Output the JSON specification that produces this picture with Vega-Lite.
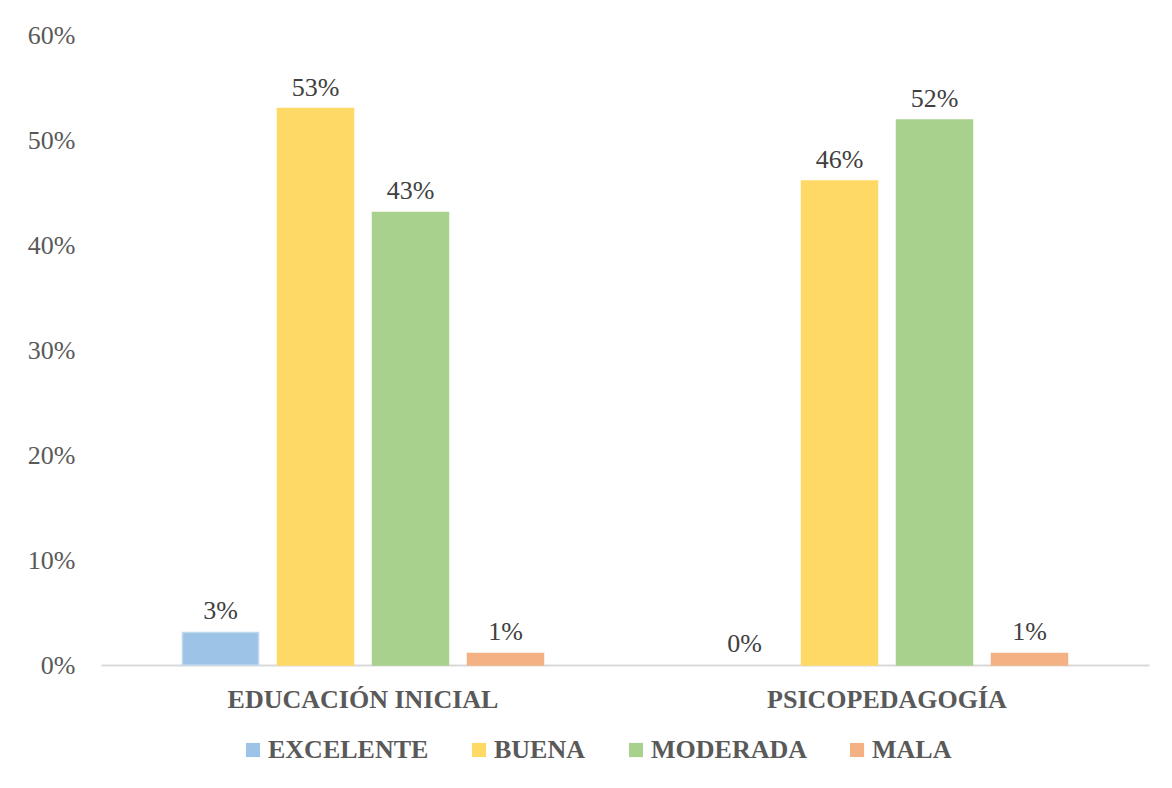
{
  "$schema": "https://vega.github.io/schema/vega-lite/v6.json",
  "width": 1048,
  "height": 630,
  "autosize": {"type": "none"},
  "padding": {"left": 101, "top": 35, "right": 23, "bottom": 123},
  "background": "white",
  "data": {
    "values": [
      {"programa": "EDUCACIÓN  INICIAL", "nivel": "EXCELENTE", "valor": 0.031},
      {"programa": "EDUCACIÓN  INICIAL", "nivel": "BUENA", "valor": 0.53},
      {"programa": "EDUCACIÓN  INICIAL", "nivel": "MODERADA", "valor": 0.431},
      {"programa": "EDUCACIÓN  INICIAL", "nivel": "MALA", "valor": 0.011},
      {"programa": "PSICOPEDAGOGÍA", "nivel": "EXCELENTE", "valor": 0.0},
      {"programa": "PSICOPEDAGOGÍA", "nivel": "BUENA", "valor": 0.461},
      {"programa": "PSICOPEDAGOGÍA", "nivel": "MODERADA", "valor": 0.519},
      {"programa": "PSICOPEDAGOGÍA", "nivel": "MALA", "valor": 0.011}
    ]
  },
  "encoding": {
    "x": {
      "field": "programa",
      "type": "nominal",
      "sort": null,
      "title": null,
      "scale": {"paddingInner": 0, "paddingOuter": 0},
      "axis": {
        "labelAngle": 0,
        "labelLimit": 0,
        "labelFont": "Liberation Serif",
        "labelFontSize": 26,
        "labelFontWeight": "bold",
        "labelColor": "#595959",
        "labelPadding": 21,
        "ticks": false,
        "domainColor": "#D9D9D9",
        "domainWidth": 2
      }
    },
    "xOffset": {
      "field": "nivel",
      "type": "nominal",
      "sort": ["EXCELENTE", "BUENA", "MODERADA", "MALA"],
      "scale": {"paddingInner": 0.2, "paddingOuter": 0.858}
    },
    "y": {
      "field": "valor",
      "type": "quantitative",
      "title": null,
      "scale": {"domain": [0, 0.6]},
      "axis": {
        "format": ".0%",
        "values": [0, 0.1, 0.2, 0.3, 0.4, 0.5, 0.6],
        "grid": false,
        "domain": false,
        "ticks": false,
        "labelFont": "Liberation Serif",
        "labelFontSize": 26,
        "labelColor": "#595959",
        "labelPadding": 26
      }
    }
  },
  "layer": [
    {
      "mark": {"type": "bar", "strokeWidth": 1.5},
      "encoding": {
        "color": {
          "field": "nivel",
          "type": "nominal",
          "sort": ["EXCELENTE", "BUENA", "MODERADA", "MALA"],
          "scale": {
            "domain": ["EXCELENTE", "BUENA", "MODERADA", "MALA"],
            "range": ["#9DC3E6", "#FFD966", "#A9D18E", "#F4B183"]
          },
          "legend": {
            "title": null,
            "orient": "none",
            "direction": "horizontal",
            "legendX": 139,
            "legendY": 702,
            "symbolType": "square",
            "symbolSize": 200,
            "symbolStrokeWidth": 0,
            "labelFont": "Liberation Serif",
            "labelFontSize": 26,
            "labelFontWeight": "bold",
            "labelColor": "#595959",
            "labelLimit": 0,
            "columnPadding": 37,
            "labelOffset": 2
          }
        },
        "stroke": {
          "field": "nivel",
          "type": "nominal",
          "scale": {
            "domain": ["EXCELENTE", "BUENA", "MODERADA", "MALA"],
            "range": ["#BDD7EE", "#FFD966", "#A9D18E", "#F4B183"]
          },
          "legend": null
        },
        "strokeOpacity": {
          "condition": {"test": "datum.valor == 0", "value": 0},
          "value": 1
        }
      }
    },
    {
      "mark": {
        "type": "text",
        "baseline": "alphabetic",
        "dy": -13,
        "font": "Liberation Serif",
        "fontSize": 26,
        "color": "#404040"
      },
      "encoding": {
        "text": {"field": "valor", "type": "quantitative", "format": ".0%"}
      }
    }
  ],
  "config": {
    "view": {"stroke": null}
  }
}
